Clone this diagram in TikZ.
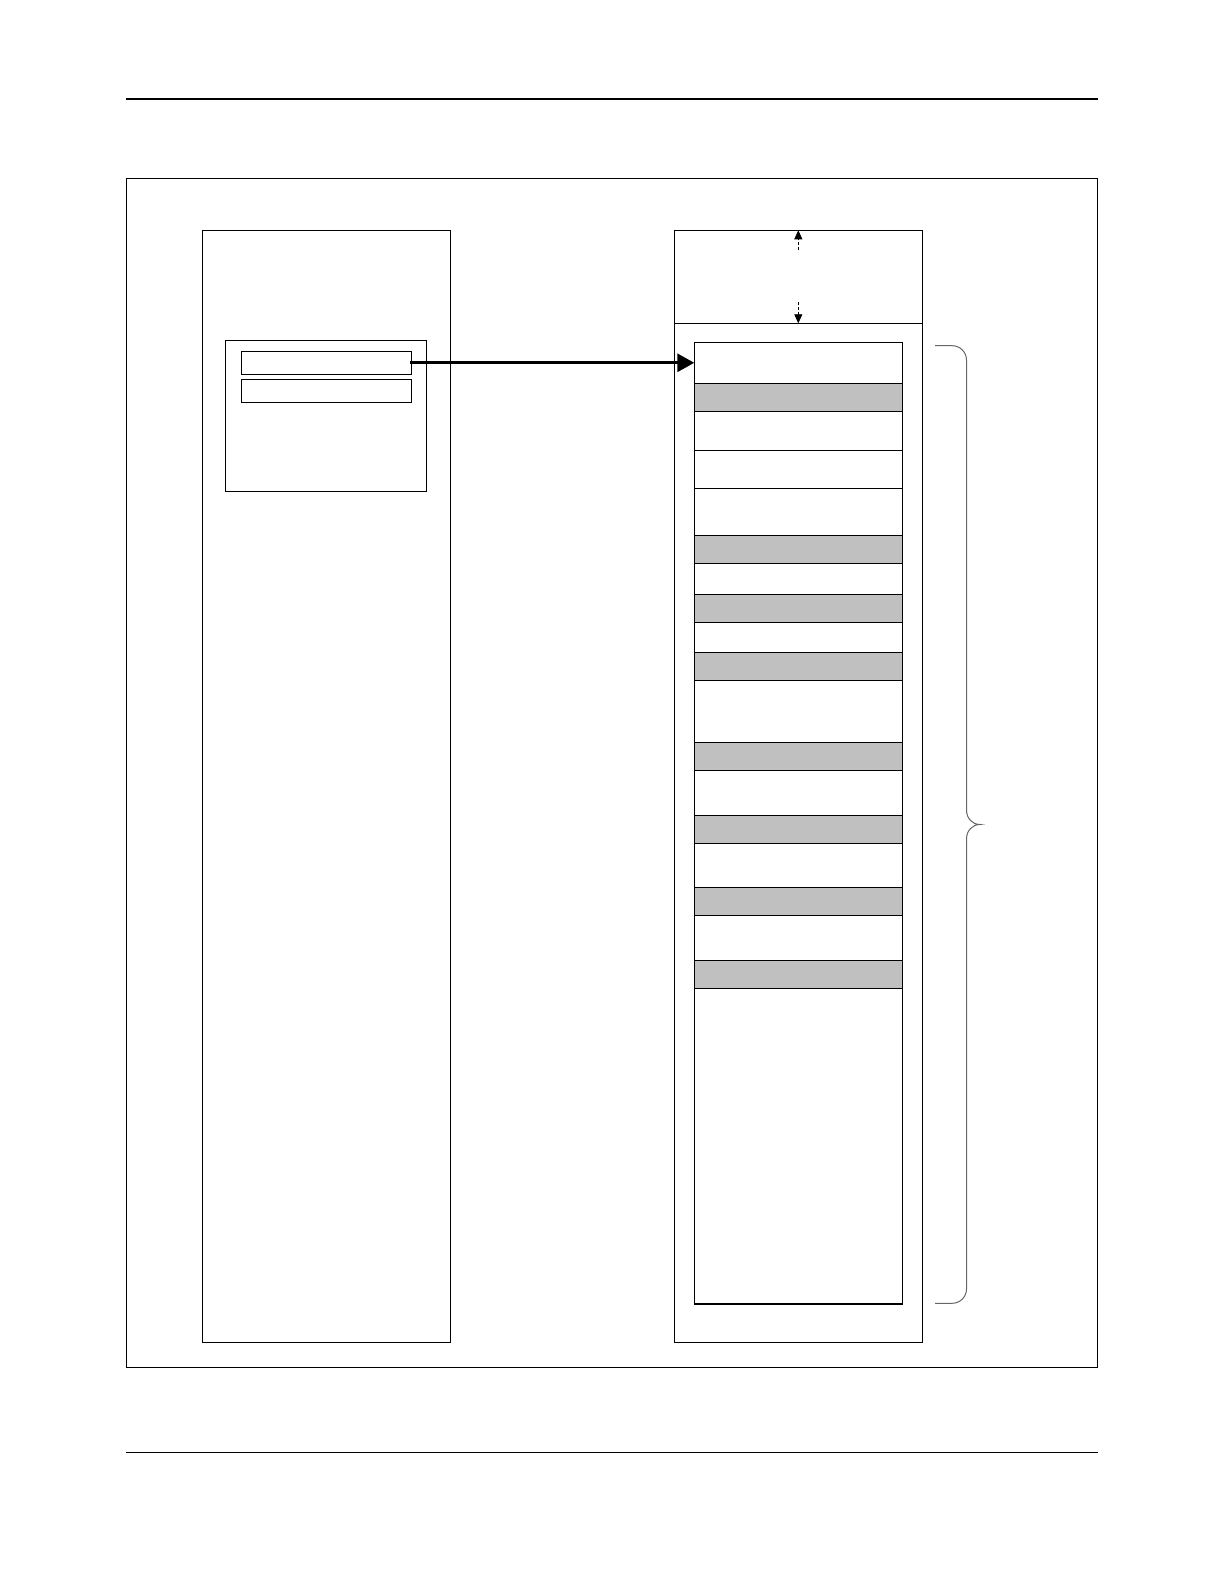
\documentclass[tikz,border=0pt]{standalone}
\usetikzlibrary{arrows.meta,positioning}
\definecolor{bandgray}{HTML}{C0C0C0}
\begin{document}
\begin{tikzpicture}[
		x=1pt, y=-1pt,
		box/.style={draw, line width=1.2pt, inner sep=0pt, outer sep=0pt, anchor=north west},
		band/.style={box, minimum width=208pt},
		dim/.style={line width=0.8pt, dash pattern=on 3pt off 2pt, -{Triangle[length=9pt,width=8pt]}},
		link/.style={line width=3pt, -{Triangle[length=17pt,width=18pt]}},
		brace/.style={draw=black!60, line width=1pt},
	]
		\useasboundingbox (0,0) rectangle (1224,1584);
		% page rules and frame
		\draw[line width=2.4pt] (126,99) -- (1098,99);
		\draw[line width=1.3pt] (126,1452.3) -- (1098,1452.3);
		\draw[line width=1.3pt] (126.3,178.3) rectangle (1097.7,1367.3);
		
		% left column
		\node[box, minimum width=248pt, minimum height=1112pt] (lcol) at (202.3,230.3) {};
		\node[box, minimum width=201.4pt, minimum height=151pt, below right=110pt and 23pt of lcol.north west] (sbox) {};
		\node[box, minimum width=170.4pt, minimum height=23pt, below right=11pt and 16pt of sbox.north west] (ent1) {};
		\node[box, minimum width=170.4pt, minimum height=23pt, below=5pt of ent1] (ent2) {};
		
		% right column
		\node[box, minimum width=248pt, minimum height=1112pt] (rcol) at (674.3,230.3) {};
		\node[box, minimum width=248pt, minimum height=93pt] (hdr) at (rcol.north west) {};
		\foreach \ya/\yb/\tone [count=\i] in {
				342.3/383.3/white, 383.3/411.3/bandgray, 411.3/450.3/white, 450.3/488.3/white,
				488.3/535.3/white, 535.3/563.3/bandgray, 563.3/594.3/white, 594.3/622.3/bandgray,
				622.3/652.3/white, 652.3/680.3/bandgray, 680.3/742.3/white, 742.3/770.3/bandgray,
				770.3/815.3/white, 815.3/843.3/bandgray, 843.3/887.3/white, 887.3/915.3/bandgray,
				915.3/960.3/white, 960.3/988.3/bandgray, 988.3/1304/white}{
			\pgfmathsetmacro\h{\yb-\ya}
			\node[band, fill=\tone, minimum height=\h pt] (band\i) at (694.3,\ya) {};
		}
		
		\coordinate[below=20pt of hdr.north] (upfoot);
		\coordinate[above=21pt of hdr.south] (downfoot);
		\draw[dim] (upfoot) -- (hdr.north);
		\draw[dim] (downfoot) -- (hdr.south);
		
		\draw[link] ([xshift=-2pt]ent1.east) -- (band1.west);
		
		% brace
		\draw[brace] (935,345.7) -- (952,345.7)
			.. controls (960,345.7) and (966.5,352) .. (966.5,360)
			-- (966.5,810)
			.. controls (966.5,818) and (972,824.5) .. (980,824.5)
			.. controls (972,824.5) and (966.5,831) .. (966.5,839)
			-- (966.5,1289)
			.. controls (966.5,1297) and (960,1303.3) .. (952,1303.3)
			-- (935,1303.3);
	\end{tikzpicture}
\end{document}
